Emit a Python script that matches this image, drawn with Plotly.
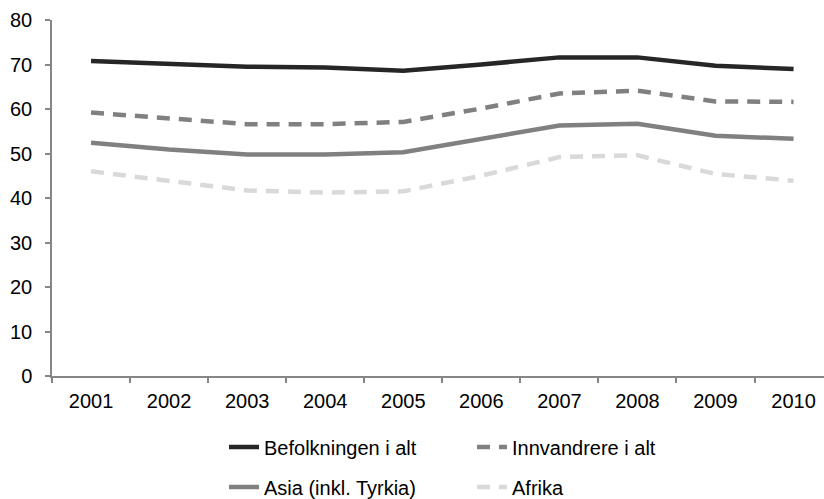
import plotly.graph_objects as go

years = ["2001", "2002", "2003", "2004", "2005", "2006", "2007", "2008", "2009", "2010"]
befolkningen = [70.8, 70.1, 69.5, 69.3, 68.6, 70.0, 71.6, 71.6, 69.7, 69.0]
innvandrere = [59.2, 58.0, 56.6, 56.6, 57.1, 60.1, 63.5, 64.1, 61.7, 61.6]
asia = [52.4, 50.9, 49.8, 49.8, 50.3, 53.4, 56.3, 56.7, 54.0, 53.3]
afrika = [46.0, 43.9, 41.7, 41.2, 41.5, 45.0, 49.2, 49.6, 45.4, 43.9]
y_ticks = [0, 10, 20, 30, 40, 50, 60, 70, 80]

FONT = "Liberation Sans, Arial, sans-serif"

fig = go.Figure()
fig.add_trace(go.Scatter(x=years, y=befolkningen, name="Befolkningen i alt", mode="lines",
                         line=dict(color="#262626", width=4.5), legend="legend"))
fig.add_trace(go.Scatter(x=years, y=innvandrere, name="Innvandrere i alt", mode="lines",
                         line=dict(color="#808080", width=4.5, dash="13px,9px"), legend="legend"))
fig.add_trace(go.Scatter(x=years, y=asia, name="Asia (inkl. Tyrkia)", mode="lines",
                         line=dict(color="#808080", width=4.5), legend="legend2"))
fig.add_trace(go.Scatter(x=years, y=afrika, name="Afrika", mode="lines",
                         line=dict(color="#d9d9d9", width=4.5, dash="13px,9px"), legend="legend2"))

legend_common = dict(orientation="h", xanchor="left", yanchor="middle", entrywidth=203,
                     entrywidthmode="pixels", xref="container", yref="container",
                     font=dict(family=FONT, size=20, color="#000000"),
                     bgcolor="rgba(0,0,0,0)", borderwidth=0)

fig.update_layout(
    width=824, height=499,
    margin=dict(l=52, r=0, t=20, b=123, autoexpand=False),
    paper_bgcolor="white", plot_bgcolor="white",
    font=dict(family=FONT, size=20, color="#000000"),
    showlegend=True,
    legend=dict(x=224 / 824, y=1 - 447 / 499, **legend_common),
    legend2=dict(x=224 / 824, y=1 - 487 / 499, **legend_common),
    xaxis=dict(type="category", range=[-0.5, 9.39], showgrid=False, showline=True,
               linecolor="#868686", linewidth=1.5, ticks="outside", tickson="boundaries",
               ticklen=5, tickcolor="#868686", tickwidth=1.5, automargin=False,
               ticklabelstandoff=6,
               tickfont=dict(family=FONT, size=20, color="#000000"), zeroline=False),
    yaxis=dict(range=[0, 80], tickvals=y_ticks, showgrid=False, showline=True,
               linecolor="#868686", linewidth=1.5, ticks="outside", ticklen=5,
               tickcolor="#868686", tickwidth=1.5, zeroline=False, automargin=False,
               ticklabelstandoff=9,
               tickfont=dict(family=FONT, size=20, color="#000000")),
)

fig.write_html("out.html", config={"displayModeBar": False},
               post_script="document.body.style.margin='0';document.body.style.overflow='hidden';")
